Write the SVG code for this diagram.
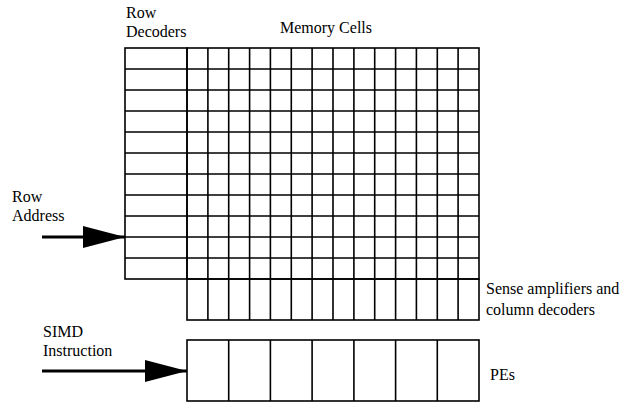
<svg xmlns="http://www.w3.org/2000/svg" width="623" height="403" viewBox="0 0 623 403">
  <style>
    .grid { fill: none; stroke: #000; stroke-width: 1.6; }
    .lbl { font-family: 'Liberation Serif', 'DejaVu Serif', 'Times New Roman', Times, serif; font-size: 16px; fill: #000; }
    .wire { stroke: #000; stroke-width: 3; fill: none; }
  </style>
  <defs>
    <marker id="head" markerUnits="userSpaceOnUse" markerWidth="42" markerHeight="22" refX="42" refY="11" orient="auto">
      <path d="M0,0 L42,11 L0,22 Z" fill="#000"/>
    </marker>
  </defs>
  <rect width="623" height="403" fill="#fff"/>

  <!-- Row decoders: one slot per row -->
  <g id="row-decoders">
    <rect class="grid" x="125" y="48" width="62" height="231"/>
    <path class="grid" d="M125,69H187M125,90H187M125,111H187M125,132H187M125,153H187M125,174H187M125,195H187M125,216H187M125,237H187M125,258H187"/>
    <text class="lbl" x="126" y="18" font-family="Liberation Serif, serif">Row</text>
    <text class="lbl" x="126" y="37" font-family="Liberation Serif, serif">Decoders</text>
  </g>

  <!-- Memory cell array: 14 columns x 11 rows -->
  <g id="memory-cells">
    <rect class="grid" x="187" y="48" width="292" height="231"/>
    <path class="grid" d="M187,69H479M187,90H479M187,111H479M187,132H479M187,153H479M187,174H479M187,195H479M187,216H479M187,237H479M187,258H479"/>
    <path class="grid" d="M207.9,48V279M228.7,48V279M249.6,48V279M270.4,48V279M291.3,48V279M312.1,48V279M333,48V279M353.9,48V279M374.7,48V279M395.6,48V279M416.4,48V279M437.3,48V279M458.1,48V279"/>
    <text class="lbl" x="280" y="33">Memory Cells</text>
  </g>

  <!-- Sense amplifiers and column decoders -->
  <g id="sense-amps">
    <rect class="grid" x="187" y="279" width="292" height="41"/>
    <path class="grid" d="M207.9,279V320M228.7,279V320M249.6,279V320M270.4,279V320M291.3,279V320M312.1,279V320M333,279V320M353.9,279V320M374.7,279V320M395.6,279V320M416.4,279V320M437.3,279V320M458.1,279V320"/>
    <text class="lbl" x="486" y="294">Sense amplifiers and</text>
    <text class="lbl" x="486" y="315">column decoders</text>
  </g>

  <!-- Processing elements, one per two columns -->
  <g id="pes">
    <rect class="grid" x="187" y="340" width="292" height="61"/>
    <path class="grid" d="M228.7,340V401M270.4,340V401M312.1,340V401M353.9,340V401M395.6,340V401M437.3,340V401"/>
    <text class="lbl" x="490" y="380">PEs</text>
  </g>

  <g id="row-address">
    <text class="lbl" x="12" y="202">Row</text>
    <text class="lbl" x="12" y="221">Address</text>
  </g>

  <g id="simd-instruction">
    <text class="lbl" x="43" y="337">SIMD</text>
    <text class="lbl" x="43" y="356">Instruction</text>
  </g>

  <g id="connectors">
    <line class="wire" x1="42" y1="237" x2="125" y2="237" marker-end="url(#head)"/>
    <line class="wire" x1="42" y1="371" x2="187" y2="371" marker-end="url(#head)"/>
  </g>
</svg>
